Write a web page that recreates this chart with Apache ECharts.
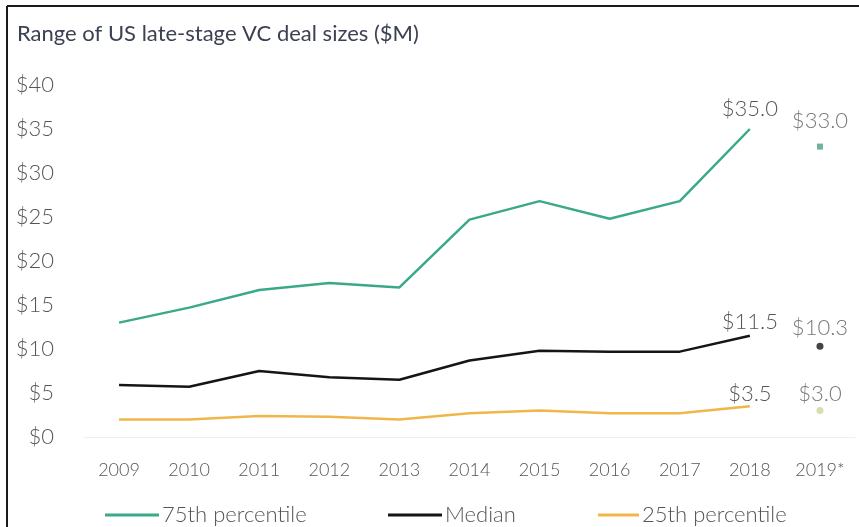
<!DOCTYPE html>
<html>
<head>
<meta charset="utf-8">
<style>
  html, body { margin: 0; padding: 0; background: #ffffff; }
  #chart { width: 859px; height: 527px; }
</style>
<script src="https://cdn.jsdelivr.net/npm/echarts@6/dist/echarts.min.js"></script>
</head>
<body>
<div id="chart"></div>
<script>
// Late-stage VC deal size percentiles, $M
const years = ['2009', '2010', '2011', '2012', '2013', '2014', '2015', '2016', '2017', '2018', '2019*'];
const p75 = [13.0, 14.7, 16.7, 17.5, 17.0, 24.7, 26.8, 24.8, 26.8, 35.0, 33.0];
const median = [5.9, 5.7, 7.5, 6.8, 6.5, 8.7, 9.8, 9.7, 9.7, 11.5, 10.3];
const p25 = [2.0, 2.0, 2.4, 2.3, 2.0, 2.7, 3.0, 2.7, 2.7, 3.5, 3.0];
const yTicks = [0, 5, 10, 15, 20, 25, 30, 35, 40];

const GREEN = '#3aa98a';
const BLACK = '#151515';
const GOLD = '#f1b64a';
const TEXT = '#555555';
const FONT = 'Lato';

const lastFull = years.length - 2; // 2018, last year with a complete line

function lineData(values) {
  // full years drawn as a line; 2019* is a partial year shown as a lone point
  return values.map((v, i) => {
    if (i > lastFull) return null;
    if (i === lastFull) return { value: v, label: { show: true } };
    return v;
  });
}

function partialData(values) {
  return [[years[years.length - 1], values[values.length - 1]]];
}

function valueLabel(show, distance) {
  return {
    show: show,
    position: 'top',
    distance: distance,
    color: TEXT,
    fontFamily: FONT,
    fontWeight: 300,
    fontSize: 22,
    formatter: p => '$' + (Array.isArray(p.value) ? p.value[1] : p.value).toFixed(1)
  };
}

function lineSeries(name, values, color, labelGap) {
  return {
    name: name,
    type: 'line',
    data: lineData(values),
    symbol: 'circle',
    symbolSize: 0,
    showSymbol: true,
    lineStyle: { color: color, width: 2.5 },
    itemStyle: { color: color },
    label: valueLabel(false, labelGap),
    emphasis: { disabled: true },
    z: 3
  };
}

function partialSeries(name, values, color, symbol, size, labelGap) {
  return {
    name: name,
    type: 'scatter',
    data: partialData(values),
    symbol: symbol,
    symbolSize: size,
    itemStyle: { color: color },
    label: valueLabel(true, labelGap),
    emphasis: { disabled: true },
    z: 4
  };
}

function legendFor(name, left, width) {
  return {
    data: [name],
    left: left,
    top: 499,
    icon: 'rect',
    itemWidth: width,
    itemHeight: 3,
    selectedMode: false,
    textStyle: { color: TEXT, fontFamily: FONT, fontWeight: 300, fontSize: 22, padding: [0, 0, 0, -2] }
  };
}

const chart = echarts.init(document.getElementById('chart'), null, { renderer: 'canvas' });

chart.setOption({
  animation: false,
  backgroundColor: '#ffffff',
  title: {
    text: 'Range of US late-stage VC deal sizes ($M)',
    left: 12,
    top: 18,
    textStyle: { color: '#3c4152', fontFamily: FONT, fontSize: 22, fontWeight: 'normal' }
  },
  graphic: [
    { type: 'line', shape: { x1: 7, y1: 6, x2: 859, y2: 6 }, style: { stroke: '#1a1a1a', lineWidth: 2 } },
    { type: 'line', shape: { x1: 7, y1: 6, x2: 7, y2: 527 }, style: { stroke: '#1a1a1a', lineWidth: 2 } }
  ],
  legend: [
    legendFor('75th percentile', 100, 54),
    legendFor('Median', 383, 54),
    legendFor('25th percentile', 593, 41)
  ],
  grid: { left: 84, right: 4, top: 85, bottom: 90, containLabel: false },
  xAxis: {
    type: 'category',
    data: years,
    boundaryGap: true,
    axisLine: { show: true, lineStyle: { color: '#efefef', width: 1 } },
    axisTick: { show: false },
    axisLabel: { color: TEXT, fontFamily: FONT, fontWeight: 300, fontSize: 18, margin: 24 },
    splitLine: { show: false }
  },
  yAxis: {
    type: 'value',
    min: yTicks[0],
    max: yTicks[yTicks.length - 1],
    interval: yTicks[1] - yTicks[0],
    axisLine: { show: false },
    axisTick: { show: false },
    splitLine: { show: false },
    axisLabel: {
      color: TEXT, fontFamily: FONT, fontWeight: 300, fontSize: 22, margin: 30,
      formatter: v => '$' + v
    }
  },
  series: [
    lineSeries('75th percentile', p75, GREEN, 9),
    lineSeries('Median', median, BLACK, 3),
    lineSeries('25th percentile', p25, GOLD, 1),
    partialSeries('75th percentile 2019*', p75, '#4b9e86', 'rect', 6, 12),
    partialSeries('Median 2019*', median, BLACK, 'circle', 7, 4),
    partialSeries('25th percentile 2019*', p25, '#cfd39a', 'circle', 7, 2)
  ]
});
</script>
</body>
</html>
